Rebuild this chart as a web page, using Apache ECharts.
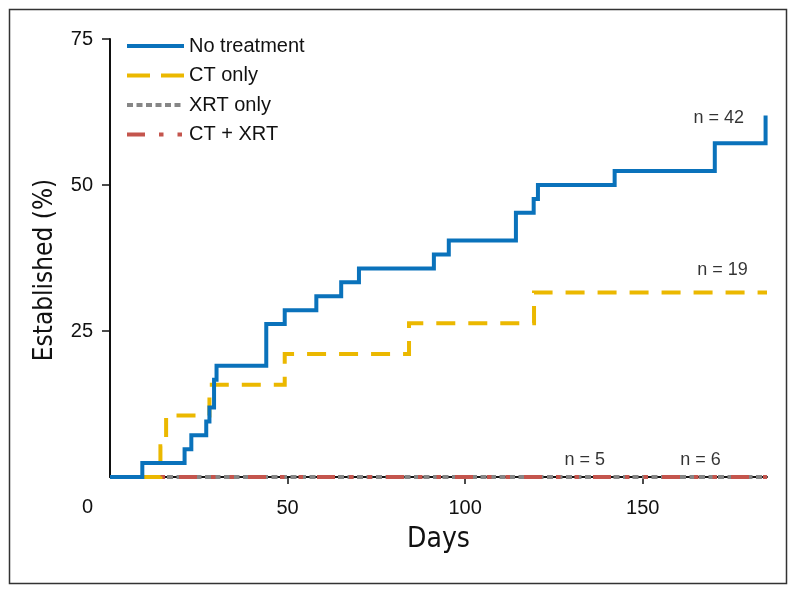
<!DOCTYPE html>
<html>
<head>
<meta charset="utf-8">
<script src="https://cdn.jsdelivr.net/npm/echarts@6/dist/echarts.min.js"></script>
<style>
    html, body { margin: 0; padding: 0; background: #fff; }
    #chart { width: 800px; height: 593px; }
</style>
</head>
<body>
<div id="chart"></div>
<script>
//series names
var names = ['No treatment', 'CT only', 'XRT only', 'CT + XRT'];
//step points: [day, established %]
var noTreatment = [
    [0, 0], [9.1, 2.38], [21, 4.76], [22.9, 7.14], [27.1, 9.52], [28, 11.9],
    [29.3, 16.67], [30, 19.05], [44, 26.19], [49.2, 28.57], [58.1, 30.95],
    [65.1, 33.33], [70.1, 35.71], [91.2, 38.1], [95.4, 40.48], [114.3, 45.24],
    [119.3, 47.62], [120.5, 50], [142.1, 52.38], [170.3, 57.14], [184.6, 61.9]
];
var ctOnly = [
    [0, 0], [14.2, 5.26], [15.8, 10.53], [28, 15.79], [49.2, 21.05],
    [84.2, 26.32], [119.4, 31.58], [185, 31.58]
];
var xrtOnly = [[0, 0], [185, 0]];
var ctXrt = [[0, 0], [185, 0]];
//n = labels
var noteText = ['n = 42', 'n = 19', 'n = 5', 'n = 6'];
var noteAt = [[171.4, 61.5], [172.5, 35.4], [133.7, 2.9], [166.3, 2.9]];
//ticks
var xTicks = [50, 100, 150];
var yTicks = [25, 50, 75];
var yLabels = [0, 25, 50, 75];

var colors = ['#0A72BB', '#EBB800', '#868686', '#C4554D'];
var dashes = ['solid', [19, 13], [6, 3.5], [18, 14, 4.5, 14, 4.5, 14]];
var legendDashes = ['solid', [23, 11], [6, 3.5], [18, 14, 4.5, 14, 4.5, 14]];
var narrow = "'Liberation Sans Narrow', 'DejaVu Sans Condensed', sans-serif";
var plain = "'Liberation Sans', Arial, sans-serif";

var chart = echarts.init(document.getElementById('chart'));

function stepSeries(i, data, z) {
    return {
        name: names[i],
        type: 'line',
        step: 'end',
        symbol: 'none',
        z: z,
        data: data,
        lineStyle: { color: colors[i], width: 4, type: dashes[i], join: 'miter', cap: 'butt' },
        itemStyle: { color: colors[i] }
    };
}

var option = {
    animation: false,
    backgroundColor: '#fff',
    grid: { left: 110, right: 33, top: 39, bottom: 116 },
    legend: {
        orient: 'vertical',
        left: 120,
        top: 31,
        itemWidth: 57,
        itemHeight: 14,
        itemGap: 9.5,
        lineStyle: { width: 4 },
        //hide the dot that line series put in the legend icon
        itemStyle: { opacity: 0, color: 'rgba(0,0,0,0)', borderWidth: 0 },
        textStyle: { fontFamily: plain, fontSize: 20, lineHeight: 20, color: '#111' },
        data: names.map(function (n, i) {
            return {
                name: n,
                lineStyle: { type: legendDashes[i], width: 4, color: colors[i] },
                itemStyle: { opacity: 0, color: 'rgba(0,0,0,0)', borderWidth: 0 }
            };
        })
    },
    xAxis: {
        type: 'value',
        min: 0,
        max: 185,
        name: 'Days',
        nameLocation: 'middle',
        nameGap: 49,
        nameTextStyle: { fontFamily: narrow, fontSize: 28, color: '#111' },
        splitLine: { show: false },
        axisLine: { lineStyle: { color: '#111', width: 2 } },
        axisTick: { customValues: xTicks, length: 7, lineStyle: { color: '#111', width: 1.5 } },
        axisLabel: { customValues: xTicks, margin: 21, fontFamily: plain, fontSize: 20, color: '#111' }
    },
    yAxis: {
        type: 'value',
        min: 0,
        max: 75,
        interval: 25,
        name: 'Established (%)',
        nameLocation: 'middle',
        nameGap: 52,
        nameTextStyle: { fontFamily: narrow, fontSize: 26, color: '#111', padding: [0, 24, 0, 0] },
        splitLine: { show: false },
        axisLine: { show: true, lineStyle: { color: '#111', width: 2 } },
        axisTick: { show: true, customValues: yTicks, length: 8, lineStyle: { color: '#111', width: 1.5 } },
        axisLabel: {
            customValues: yLabels,
            margin: 17,
            fontFamily: plain,
            fontSize: 20,
            color: '#111',
            formatter: function (v) { return v === 0 ? '{z|0}' : String(v); },
            rich: { z: { fontFamily: plain, fontSize: 20, color: '#111', padding: [60, 0, 0, 0] } }
        }
    },
    graphic: [{
        type: 'rect',
        shape: { x: 9.5, y: 9.5, width: 777, height: 574 },
        style: { fill: null, stroke: '#333', lineWidth: 1.5 },
        silent: true
    }],
    series: [
        stepSeries(2, xrtOnly, 2),
        stepSeries(3, ctXrt, 3),
        stepSeries(1, ctOnly, 4),
        stepSeries(0, noTreatment, 5),
        {
            type: 'scatter',
            symbolSize: 0,
            silent: true,
            z: 6,
            data: noteAt.map(function (p, i) { return { value: p, name: noteText[i] }; }),
            label: {
                show: true,
                position: 'inside',
                formatter: '{b}',
                fontFamily: plain,
                fontSize: 18,
                color: '#000'
            }
        }
    ]
};
chart.setOption(option);
</script>
</body>
</html>
